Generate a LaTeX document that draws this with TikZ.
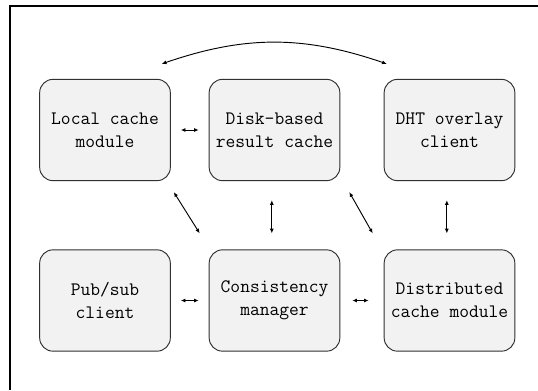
\documentclass[tikz,border=0pt]{standalone}
\usepackage{tikz}
\usetikzlibrary{arrows.meta,positioning}
\definecolor{modfill}{HTML}{F2F2F2}
\definecolor{moddraw}{HTML}{303030}
\tikzset{
  modbox/.style={rounded corners=10pt,draw=moddraw,fill=modfill,align=center,line width=0.7pt,
    minimum width=98pt,minimum height=76pt,inner sep=2pt,text=black,font=\ttfamily\fontsize{14.25}{17.5}\selectfont},
  biar/.style={{Latex[length=3.5pt,width=3pt]}-{Latex[length=3.5pt,width=3pt]},line width=0.7pt},
}
\begin{document}
\begin{tikzpicture}[x=0.75pt,y=-0.75pt]
  \useasboundingbox (0,0) rectangle (538,390);
  % frame
  \draw[line width=0.8pt] (538,6) -- (10,6) -- (10,390);
  % top row
  \node[modbox] (loc)  at (105,130)   {Local cache\\module};
  \node[modbox] (disk) at (274.5,130) {Disk-based\\result cache};
  \node[modbox] (dht)  at (449.5,130) {DHT overlay\\client};
  % bottom row
  \node[modbox] (pub)  at (105,300.5)   {Pub/sub\\client};
  \node[modbox] (cons) at (274.5,300.5) {Consistency\\manager};
  \node[modbox] (dist) at (449.5,300.5) {Distributed\\cache module};
  % links
  \draw[biar,shorten <=7.5pt,shorten >=7.5pt] (loc) -- (disk);
  \draw[biar,shorten <=7.5pt,shorten >=7.5pt] (pub) -- (cons);
  \draw[biar,shorten <=9pt,shorten >=11.25pt] (cons) -- (dist);
  \draw[biar,shorten <=14.25pt,shorten >=12pt] ([xshift=-2pt]disk.south) -- ([xshift=-2pt]cons.north);
  \draw[biar,shorten <=14.25pt,shorten >=12pt] ([xshift=-2pt]dht.south) -- ([xshift=-2pt]dist.north);
  \draw[biar] ([xshift=2.25pt,yshift=-8.25pt]loc.south east) -- ([xshift=-6.75pt,yshift=12pt]cons.north west);
  \draw[biar] ([xshift=6.75pt,yshift=-8.25pt]disk.south east) -- ([xshift=-8.25pt,yshift=12pt]dist.north west);
  \draw[biar] ([xshift=-6.75pt,yshift=11.25pt]loc.north east) to[bend left=19] ([xshift=2.25pt,yshift=11.25pt]dht.north west);
\end{tikzpicture}
\end{document}
